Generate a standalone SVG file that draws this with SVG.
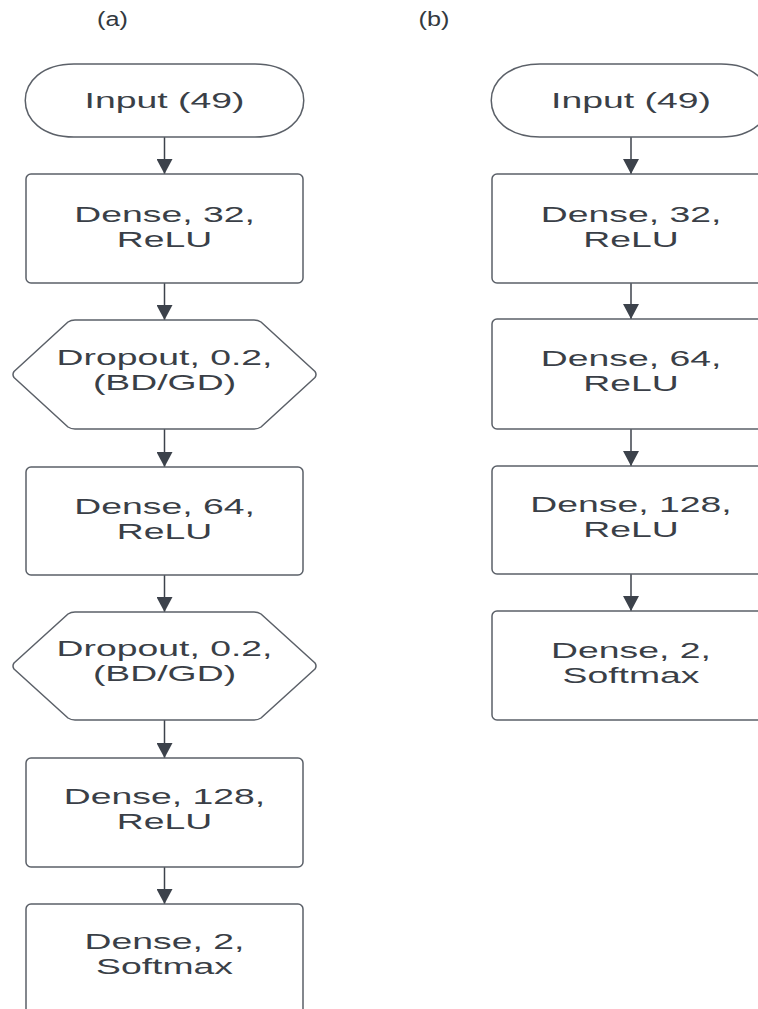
<svg xmlns="http://www.w3.org/2000/svg" width="758" height="1009" viewBox="0 0 758 1009">
<style>
.shape{fill:#ffffff;stroke:#5b6068;stroke-width:1.5;stroke-linejoin:round}
.lbl{font-family:"Liberation Sans",Arial,sans-serif;font-size:22.5px;fill:#3a3f47;text-anchor:middle}
.ttl{font-family:"Liberation Sans",Arial,sans-serif;font-size:21px;fill:#333940;text-anchor:middle}
.conn{stroke:#3c424b;stroke-width:1.5;fill:none}
</style>
<defs>
<marker id="arr" viewBox="0 0 15 16" markerUnits="userSpaceOnUse" markerWidth="15" markerHeight="16" refX="15" refY="8" orient="auto">
<path d="M0,0 L15,8 L0,16 z" fill="#3c424b"/>
</marker>
</defs>
<rect width="758" height="1009" fill="#ffffff"/>
<g id="title-a" transform="translate(112.5 0) scale(1.2 1)"><text class="ttl" x="0" y="26">(a)</text></g>
<g id="title-b" transform="translate(434 0) scale(1.2 1)"><text class="ttl" x="0" y="26">(b)</text></g>

<g id="connectors">
<line class="conn" x1="164.5" y1="137" x2="164.5" y2="174" marker-end="url(#arr)"/>
<line class="conn" x1="164.5" y1="283" x2="164.5" y2="320" marker-end="url(#arr)"/>
<line class="conn" x1="164.5" y1="429" x2="164.5" y2="467" marker-end="url(#arr)"/>
<line class="conn" x1="164.5" y1="575" x2="164.5" y2="612" marker-end="url(#arr)"/>
<line class="conn" x1="164.5" y1="720" x2="164.5" y2="758" marker-end="url(#arr)"/>
<line class="conn" x1="164.5" y1="867" x2="164.5" y2="904" marker-end="url(#arr)"/>
<line class="conn" x1="631" y1="137" x2="631" y2="174" marker-end="url(#arr)"/>
<line class="conn" x1="631" y1="283" x2="631" y2="319" marker-end="url(#arr)"/>
<line class="conn" x1="631" y1="429" x2="631" y2="466" marker-end="url(#arr)"/>
<line class="conn" x1="631" y1="574" x2="631" y2="611" marker-end="url(#arr)"/>
</g>

<!-- column (a) -->
<g id="a-input">
<path class="shape" d="M74,64 H255 C320,64 320,137 255,137 H74 C9,137 9,64 74,64 Z"/>
<g transform="translate(164.5 0) scale(1.66 1)"><text class="lbl" x="0" y="108">Input (49)</text></g>
</g>
<g id="a-dense32">
<rect class="shape" x="26" y="174" width="277" height="109" rx="5"/>
<g transform="translate(164.5 0) scale(1.66 1)"><text class="lbl" x="0" y="222">Dense, 32,</text><text class="lbl" x="0" y="247">ReLU</text></g>
</g>
<g id="a-dropout1">
<path class="shape" d="M14,371.5 L68,322 Q71,320 75,320 L254,320 Q258,320 261,322 L315,371.5 Q317,374.5 315,377.5 L261,427 Q258,429 254,429 L75,429 Q71,429 68,427 L14,377.5 Q12,374.5 14,371.5 Z"/>
<g transform="translate(164.5 0) scale(1.66 1)"><text class="lbl" x="0" y="365">Dropout, 0.2,</text><text class="lbl" x="0" y="390">(BD/GD)</text></g>
</g>
<g id="a-dense64">
<rect class="shape" x="26" y="467" width="277" height="108" rx="5"/>
<g transform="translate(164.5 0) scale(1.66 1)"><text class="lbl" x="0" y="514">Dense, 64,</text><text class="lbl" x="0" y="539">ReLU</text></g>
</g>
<g id="a-dropout2">
<path class="shape" d="M14,663 L68,614 Q71,612 75,612 L254,612 Q258,612 261,614 L315,663 Q317,666 315,669 L261,718 Q258,720 254,720 L75,720 Q71,720 68,718 L14,669 Q12,666 14,663 Z"/>
<g transform="translate(164.5 0) scale(1.66 1)"><text class="lbl" x="0" y="656">Dropout, 0.2,</text><text class="lbl" x="0" y="681">(BD/GD)</text></g>
</g>
<g id="a-dense128">
<rect class="shape" x="26" y="758" width="277" height="109" rx="5"/>
<g transform="translate(164.5 0) scale(1.66 1)"><text class="lbl" x="0" y="804">Dense, 128,</text><text class="lbl" x="0" y="829">ReLU</text></g>
</g>
<g id="a-dense2">
<rect class="shape" x="26" y="904" width="277" height="112" rx="5"/>
<g transform="translate(164.5 0) scale(1.66 1)"><text class="lbl" x="0" y="949">Dense, 2,</text><text class="lbl" x="0" y="974">Softmax</text></g>
</g>

<!-- column (b) -->
<g id="b-input">
<path class="shape" d="M540,64 H721 C786,64 786,137 721,137 H540 C475,137 475,64 540,64 Z"/>
<g transform="translate(631 0) scale(1.66 1)"><text class="lbl" x="0" y="108">Input (49)</text></g>
</g>
<g id="b-dense32">
<rect class="shape" x="492" y="174" width="277" height="109" rx="5"/>
<g transform="translate(631 0) scale(1.66 1)"><text class="lbl" x="0" y="222">Dense, 32,</text><text class="lbl" x="0" y="247">ReLU</text></g>
</g>
<g id="b-dense64">
<rect class="shape" x="492" y="319" width="277" height="110" rx="5"/>
<g transform="translate(631 0) scale(1.66 1)"><text class="lbl" x="0" y="366">Dense, 64,</text><text class="lbl" x="0" y="391">ReLU</text></g>
</g>
<g id="b-dense128">
<rect class="shape" x="492" y="466" width="277" height="108" rx="5"/>
<g transform="translate(631 0) scale(1.66 1)"><text class="lbl" x="0" y="512">Dense, 128,</text><text class="lbl" x="0" y="537">ReLU</text></g>
</g>
<g id="b-dense2">
<rect class="shape" x="492" y="611" width="277" height="109" rx="5"/>
<g transform="translate(631 0) scale(1.66 1)"><text class="lbl" x="0" y="658">Dense, 2,</text><text class="lbl" x="0" y="683">Softmax</text></g>
</g>
</svg>
